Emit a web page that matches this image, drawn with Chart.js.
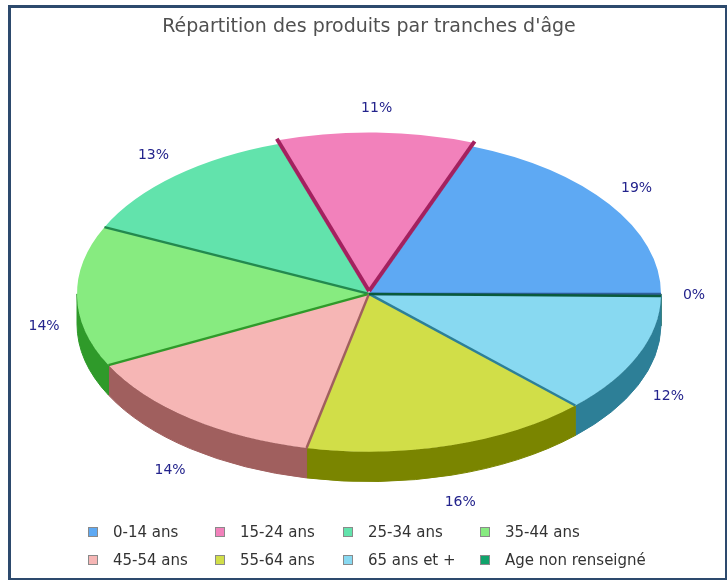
<!DOCTYPE html>
<html>
<head>
<meta charset="utf-8">
<title>Répartition des produits par tranches d'âge</title>
<script src="https://cdn.jsdelivr.net/npm/chart.js@4.4.0/dist/chart.umd.min.js"></script>
<style>
  html, body { margin: 0; padding: 0; background: #fff; overflow: hidden; }
  #wrap { position: relative; width: 727px; height: 580px; }
  #chart { position: absolute; left: 0; top: 0; }
  #frame { position: absolute; left: 8px; top: 5px; width: 720px; height: 576px;
           border: 3px solid #2d4a6d; box-sizing: border-box; pointer-events: none; }
  #legend { position: absolute; left: 88px; top: 518px; display: grid;
            grid-template-columns: 127px 128px 137px auto; grid-auto-rows: 28px;
            font: 15px "DejaVu Sans", sans-serif; color: #333; }
  .item { display: flex; align-items: center; white-space: nowrap; }
  .box { width: 8px; height: 8px; border: 1px solid #8a8a8a; margin-right: 15px; }
</style>
</head>
<body>
<div id="wrap">
  <canvas id="chart" width="727" height="580"></canvas>
  <div id="legend"></div>
  <div id="frame"></div>
</div>
<script>
const categories = ['0-14 ans', '15-24 ans', '25-34 ans', '35-44 ans', '45-54 ans', '55-64 ans', '65 ans et +', 'Age non renseigné'];
const shares = [19.2, 10.8, 13.0, 14.4, 14.1, 15.9, 12.3, 0.2];
const topColors = ['#5ea9f3', '#f281bb', '#62e3ac', '#87eb80', '#f6b6b5', '#d1de48', '#88d9f1', '#10a36b'];
const sideColors = ['#2f5f9c', '#a3215f', '#23894f', '#2f9a2a', '#a05f5e', '#7a8500', '#2d7f97', '#0a5a3c'];
const explode = [0, 20, 0, 0, 0, 0, 0, 0];

const tilt = 0.54;
const depth = 30;

// legend in html, 4 columns like the original
const legendDiv = document.getElementById('legend');
categories.forEach(function(name, i) {
    const item = document.createElement('div');
    item.className = 'item';
    item.innerHTML = '<span class="box" style="background:' + topColors[i] + '"></span>' + name;
    legendDiv.appendChild(item);
});

// chart.js draws clockwise, the original goes the other way, so feed it reversed
const rev = arr => arr.slice().reverse();
const revIndex = i => categories.length - 1 - i;
const total = shares.reduce((a, b) => a + b, 0);

const pie3d = {
    id: 'pie3d',
    beforeDatasetsDraw(chart) {
        const ctx = chart.ctx;
        const arcs = chart.getDatasetMeta(0).data;
        const cx = arcs[0].x, cy = arcs[0].y, r = arcs[0].outerRadius;
        // front walls
        arcs.forEach(function(arc, j) {
            const i = revIndex(j);
            for (let k = -1; k <= 1; k++) {
                const a1 = Math.max(arc.startAngle, k * 2 * Math.PI);
                const a2 = Math.min(arc.endAngle, k * 2 * Math.PI + Math.PI);
                if (a2 <= a1) continue;
                ctx.beginPath();
                ctx.ellipse(cx, cy, r, r * tilt, 0, a1, a2, false);
                ctx.ellipse(cx, cy + depth, r, r * tilt, 0, a2, a1, true);
                ctx.closePath();
                ctx.fillStyle = sideColors[i];
                ctx.strokeStyle = sideColors[i];
                ctx.lineWidth = 1;
                ctx.fill();
                ctx.stroke();
            }
        });
        ctx.save();
        ctx.translate(cx, cy);
        ctx.scale(1, tilt);
        ctx.translate(-cx, -cy);
    },
    afterDatasetsDraw(chart) {
        const ctx = chart.ctx;
        ctx.restore();
        const arcs = chart.getDatasetMeta(0).data;
        const cx = arcs[0].x, cy = arcs[0].y, r = arcs[0].outerRadius;
        // radial walls seen from the front
        for (let j = arcs.length - 1; j >= 0; j--) {
            const arc = arcs[j];
            const i = revIndex(j);
            const mid = (arc.startAngle + arc.endAngle) / 2;
            const off = (arc.options.offset || 0) / 4;
            const ox = cx + Math.cos(mid) * off, oy = cy + Math.sin(mid) * off * tilt;
            const rr = r + off;
            const edges = [];
            if (Math.cos(arc.startAngle) < 0) edges.push(arc.startAngle);
            if (Math.cos(arc.endAngle) > 0) edges.push(arc.endAngle);
            edges.forEach(function(a) {
                ctx.beginPath();
                ctx.moveTo(ox, oy);
                ctx.lineTo(ox + rr * Math.cos(a), oy + rr * tilt * Math.sin(a));
                ctx.strokeStyle = sideColors[i];
                ctx.lineWidth = off > 0 ? 4 : 2.5;
                ctx.stroke();
            });
        }
        // percent labels
        ctx.save();
        ctx.font = '14px "DejaVu Sans", sans-serif';
        ctx.fillStyle = '#23238c';
        ctx.textAlign = 'center';
        ctx.textBaseline = 'middle';
        arcs.forEach(function(arc, j) {
            const i = revIndex(j);
            const mid = (arc.startAngle + arc.endAngle) / 2;
            const c = Math.cos(mid), s = Math.sin(mid);
            let x = cx + r * 1.113 * c;
            let y = cy + r * tilt * 1.177 * s;
            if (s > 0 && c < 0.99) y += depth;
            ctx.fillText(Math.round(shares[i] / total * 100) + '%', x, y);
        });
        ctx.restore();
    }
};

const ctx = document.getElementById('chart').getContext('2d');
const chart = new Chart(ctx, {
    type: 'pie',
    data: {
        labels: rev(categories),
        datasets: [{
            data: rev(shares),
            backgroundColor: rev(topColors),
            borderWidth: 0,
            offset: rev(explode),
            radius: 292
        }]
    },
    options: {
        responsive: false,
        animation: false,
        rotation: 90,
        layout: { padding: { left: 11, right: 0, top: 0, bottom: 41 } },
        plugins: {
            legend: { display: false },
            tooltip: { enabled: false },
            title: {
                display: true,
                text: "Répartition des produits par tranches d'âge",
                color: '#505050',
                font: { family: 'DejaVu Sans', size: 19, weight: 'normal' },
                padding: { top: 16, bottom: 10 }
            }
        }
    },
    plugins: [pie3d]
});
</script>
</body>
</html>
